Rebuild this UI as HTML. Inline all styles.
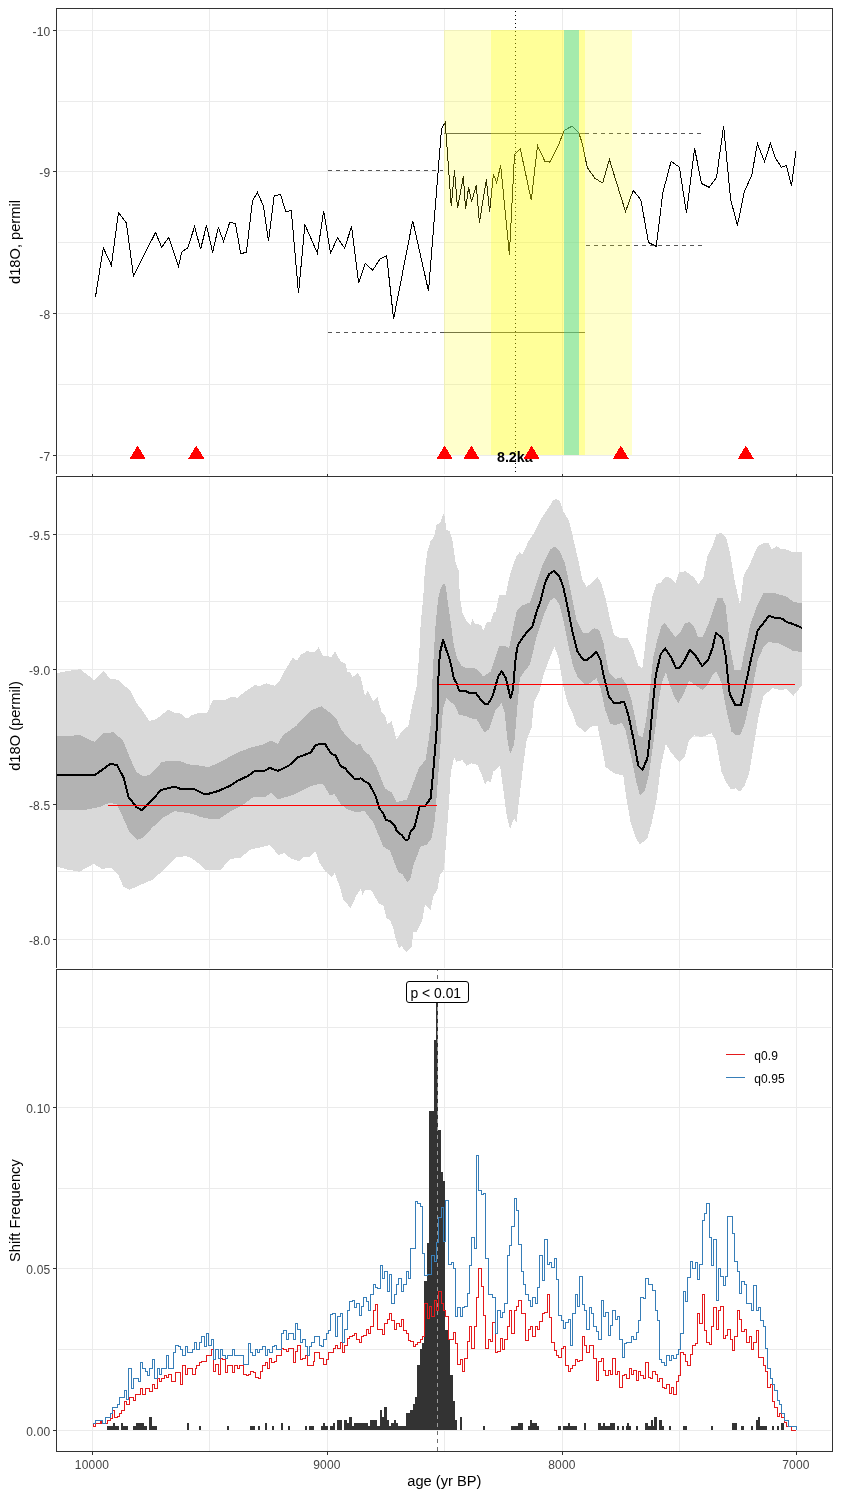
<!DOCTYPE html><html><head><meta charset="utf-8"><title>plot</title><style>html,body{margin:0;padding:0;background:#fff}svg text{font-family:"Liberation Sans",sans-serif}</style></head><body><svg width="841" height="1497" viewBox="0 0 841 1497" style="display:block">
<rect width="841" height="1497" fill="#fff"/>
<g shape-rendering="crispEdges">
<rect x="58" y="30" width="773" height="1" fill="#EBEBEB"/>
<rect x="58" y="101" width="773" height="1" fill="#EBEBEB"/>
<rect x="58" y="171" width="773" height="1" fill="#EBEBEB"/>
<rect x="58" y="242" width="773" height="1" fill="#EBEBEB"/>
<rect x="58" y="313" width="773" height="1" fill="#EBEBEB"/>
<rect x="58" y="384" width="773" height="1" fill="#EBEBEB"/>
<rect x="58" y="455" width="773" height="1" fill="#EBEBEB"/>
<rect x="92" y="9" width="1" height="465" fill="#EBEBEB"/>
<rect x="209" y="9" width="1" height="465" fill="#EBEBEB"/>
<rect x="327" y="9" width="1" height="465" fill="#EBEBEB"/>
<rect x="444" y="9" width="1" height="465" fill="#EBEBEB"/>
<rect x="562" y="9" width="1" height="465" fill="#EBEBEB"/>
<rect x="679" y="9" width="1" height="465" fill="#EBEBEB"/>
<rect x="796" y="9" width="1" height="465" fill="#EBEBEB"/>
<rect x="515" y="11" width="1" height="1" fill="#000"/>
<rect x="515" y="15" width="1" height="1" fill="#000"/>
<rect x="515" y="19" width="1" height="1" fill="#000"/>
<rect x="515" y="23" width="1" height="1" fill="#000"/>
<rect x="515" y="27" width="1" height="1" fill="#000"/>
<rect x="515" y="31" width="1" height="1" fill="#000"/>
<rect x="515" y="35" width="1" height="1" fill="#000"/>
<rect x="515" y="39" width="1" height="1" fill="#000"/>
<rect x="515" y="43" width="1" height="1" fill="#000"/>
<rect x="515" y="47" width="1" height="1" fill="#000"/>
<rect x="515" y="51" width="1" height="1" fill="#000"/>
<rect x="515" y="55" width="1" height="1" fill="#000"/>
<rect x="515" y="59" width="1" height="1" fill="#000"/>
<rect x="515" y="63" width="1" height="1" fill="#000"/>
<rect x="515" y="67" width="1" height="1" fill="#000"/>
<rect x="515" y="71" width="1" height="1" fill="#000"/>
<rect x="515" y="75" width="1" height="1" fill="#000"/>
<rect x="515" y="79" width="1" height="1" fill="#000"/>
<rect x="515" y="83" width="1" height="1" fill="#000"/>
<rect x="515" y="87" width="1" height="1" fill="#000"/>
<rect x="515" y="91" width="1" height="1" fill="#000"/>
<rect x="515" y="95" width="1" height="1" fill="#000"/>
<rect x="515" y="99" width="1" height="1" fill="#000"/>
<rect x="515" y="103" width="1" height="1" fill="#000"/>
<rect x="515" y="107" width="1" height="1" fill="#000"/>
<rect x="515" y="111" width="1" height="1" fill="#000"/>
<rect x="515" y="115" width="1" height="1" fill="#000"/>
<rect x="515" y="119" width="1" height="1" fill="#000"/>
<rect x="515" y="123" width="1" height="1" fill="#000"/>
<rect x="515" y="127" width="1" height="1" fill="#000"/>
<rect x="515" y="131" width="1" height="1" fill="#000"/>
<rect x="515" y="135" width="1" height="1" fill="#000"/>
<rect x="515" y="139" width="1" height="1" fill="#000"/>
<rect x="515" y="143" width="1" height="1" fill="#000"/>
<rect x="515" y="147" width="1" height="1" fill="#000"/>
<rect x="515" y="151" width="1" height="1" fill="#000"/>
<rect x="515" y="155" width="1" height="1" fill="#000"/>
<rect x="515" y="159" width="1" height="1" fill="#000"/>
<rect x="515" y="163" width="1" height="1" fill="#000"/>
<rect x="515" y="167" width="1" height="1" fill="#000"/>
<rect x="515" y="171" width="1" height="1" fill="#000"/>
<rect x="515" y="175" width="1" height="1" fill="#000"/>
<rect x="515" y="179" width="1" height="1" fill="#000"/>
<rect x="515" y="183" width="1" height="1" fill="#000"/>
<rect x="515" y="187" width="1" height="1" fill="#000"/>
<rect x="515" y="191" width="1" height="1" fill="#000"/>
<rect x="515" y="195" width="1" height="1" fill="#000"/>
<rect x="515" y="199" width="1" height="1" fill="#000"/>
<rect x="515" y="203" width="1" height="1" fill="#000"/>
<rect x="515" y="207" width="1" height="1" fill="#000"/>
<rect x="515" y="211" width="1" height="1" fill="#000"/>
<rect x="515" y="215" width="1" height="1" fill="#000"/>
<rect x="515" y="219" width="1" height="1" fill="#000"/>
<rect x="515" y="223" width="1" height="1" fill="#000"/>
<rect x="515" y="227" width="1" height="1" fill="#000"/>
<rect x="515" y="231" width="1" height="1" fill="#000"/>
<rect x="515" y="235" width="1" height="1" fill="#000"/>
<rect x="515" y="239" width="1" height="1" fill="#000"/>
<rect x="515" y="243" width="1" height="1" fill="#000"/>
<rect x="515" y="247" width="1" height="1" fill="#000"/>
<rect x="515" y="251" width="1" height="1" fill="#000"/>
<rect x="515" y="255" width="1" height="1" fill="#000"/>
<rect x="515" y="259" width="1" height="1" fill="#000"/>
<rect x="515" y="263" width="1" height="1" fill="#000"/>
<rect x="515" y="267" width="1" height="1" fill="#000"/>
<rect x="515" y="271" width="1" height="1" fill="#000"/>
<rect x="515" y="275" width="1" height="1" fill="#000"/>
<rect x="515" y="279" width="1" height="1" fill="#000"/>
<rect x="515" y="283" width="1" height="1" fill="#000"/>
<rect x="515" y="287" width="1" height="1" fill="#000"/>
<rect x="515" y="291" width="1" height="1" fill="#000"/>
<rect x="515" y="295" width="1" height="1" fill="#000"/>
<rect x="515" y="299" width="1" height="1" fill="#000"/>
<rect x="515" y="303" width="1" height="1" fill="#000"/>
<rect x="515" y="307" width="1" height="1" fill="#000"/>
<rect x="515" y="311" width="1" height="1" fill="#000"/>
<rect x="515" y="315" width="1" height="1" fill="#000"/>
<rect x="515" y="319" width="1" height="1" fill="#000"/>
<rect x="515" y="323" width="1" height="1" fill="#000"/>
<rect x="515" y="327" width="1" height="1" fill="#000"/>
<rect x="515" y="331" width="1" height="1" fill="#000"/>
<rect x="515" y="335" width="1" height="1" fill="#000"/>
<rect x="515" y="339" width="1" height="1" fill="#000"/>
<rect x="515" y="343" width="1" height="1" fill="#000"/>
<rect x="515" y="347" width="1" height="1" fill="#000"/>
<rect x="515" y="351" width="1" height="1" fill="#000"/>
<rect x="515" y="355" width="1" height="1" fill="#000"/>
<rect x="515" y="359" width="1" height="1" fill="#000"/>
<rect x="515" y="363" width="1" height="1" fill="#000"/>
<rect x="515" y="367" width="1" height="1" fill="#000"/>
<rect x="515" y="371" width="1" height="1" fill="#000"/>
<rect x="515" y="375" width="1" height="1" fill="#000"/>
<rect x="515" y="379" width="1" height="1" fill="#000"/>
<rect x="515" y="383" width="1" height="1" fill="#000"/>
<rect x="515" y="387" width="1" height="1" fill="#000"/>
<rect x="515" y="391" width="1" height="1" fill="#000"/>
<rect x="515" y="395" width="1" height="1" fill="#000"/>
<rect x="515" y="399" width="1" height="1" fill="#000"/>
<rect x="515" y="403" width="1" height="1" fill="#000"/>
<rect x="515" y="407" width="1" height="1" fill="#000"/>
<rect x="515" y="411" width="1" height="1" fill="#000"/>
<rect x="515" y="415" width="1" height="1" fill="#000"/>
<rect x="515" y="419" width="1" height="1" fill="#000"/>
<rect x="515" y="423" width="1" height="1" fill="#000"/>
<rect x="515" y="427" width="1" height="1" fill="#000"/>
<rect x="515" y="431" width="1" height="1" fill="#000"/>
<rect x="515" y="435" width="1" height="1" fill="#000"/>
<rect x="515" y="439" width="1" height="1" fill="#000"/>
<rect x="515" y="443" width="1" height="1" fill="#000"/>
<rect x="515" y="447" width="1" height="1" fill="#000"/>
<rect x="515" y="451" width="1" height="1" fill="#000"/>
<rect x="515" y="455" width="1" height="1" fill="#000"/>
<rect x="515" y="459" width="1" height="1" fill="#000"/>
<rect x="515" y="463" width="1" height="1" fill="#000"/>
<rect x="515" y="467" width="1" height="1" fill="#000"/>
<rect x="515" y="471" width="1" height="1" fill="#000"/>
<polyline points="95.4,297.4 103.3,247.8 111.4,265.3 118.5,212.5 126.4,223.1 133.5,276.3 140.7,261.3 155.6,232.5 161.6,247.3 168.8,237.4 178.5,266.3 181.8,252.0 187.7,247.8 194.6,226.6 200.6,249.2 206.5,225.4 212.6,252.5 218.3,227.4 223.5,241.3 229.7,222.5 235.4,223.5 240.7,253.5 246.4,252.5 252.5,200.7 257.5,192.4 263.5,206.4 268.5,241.3 274.2,195.7 280.6,194.5 285.6,211.4 291.3,210.7 298.5,293.4 304.9,224.7 317.4,253.1 323.7,210.7 330.5,253.2 337.5,237.7 344.6,248.2 351.6,226.5 358.6,283.1 365.3,263.5 372.8,270.3 379.9,259.0 386.6,255.7 393.6,318.9 412.7,220.7 428.5,291.1 441.5,129.1 445.2,122.3 451.3,206.4 454.5,170.1 457.5,208.4 463.4,176.4 465.6,209.4 468.6,187.2 471.6,201.4 476.3,185.4 479.4,222.5 486.4,179.4 489.6,212.4 493.4,174.3 496.6,182.4 500.7,165.6 509.4,254.5 514.5,154.8 520.3,148.7 531.3,200.3 537.5,145.6 544.8,161.1 549.9,162.1 557.9,146.7 564.1,130.5 572.1,126.1 578.8,132.8 581.9,142.1 587.3,167.6 595.0,178.4 602.7,183.0 609.4,159.5 625.5,211.6 633.2,190.4 640.8,199.7 648.5,242.5 656.2,246.4 662.9,192.3 671.1,161.4 679.4,167.1 686.5,213.2 694.6,148.2 701.5,183.5 709.2,187.3 716.5,177.6 723.6,126.1 730.6,199.2 737.4,225.5 744.3,191.6 751.7,175.5 757.4,143.5 764.5,161.6 770.4,143.3 775.4,157.8 781.4,167.3 786.4,165.5 791.5,185.7 795.9,150.7" fill="none" stroke="#000" stroke-width="1"/>
<line x1="327.5" y1="170.5" x2="443" y2="170.5" stroke="#555555" stroke-width="1" stroke-dasharray="4 4"/>
<line x1="327.5" y1="332.5" x2="440" y2="332.5" stroke="#555555" stroke-width="1" stroke-dasharray="4 4"/>
<rect x="440" y="332" width="145" height="1" fill="#555555"/>
<rect x="444" y="133" width="140.5" height="1" fill="#555555"/>
<line x1="584.5" y1="133.5" x2="702.5" y2="133.5" stroke="#555555" stroke-width="1" stroke-dasharray="4 4"/>
<line x1="585.5" y1="245.5" x2="702.5" y2="245.5" stroke="#555555" stroke-width="1" stroke-dasharray="4 4"/>
<rect x="444" y="30" width="188" height="425" fill="rgb(255,255,0)" fill-opacity="0.2"/>
<rect x="491" y="30" width="94" height="425" fill="rgb(255,255,0)" fill-opacity="0.25"/>
<rect x="564" y="30" width="15" height="425" fill="rgb(30,205,200)" fill-opacity="0.4"/>
</g>
<text x="514.8" y="462.0" text-anchor="middle" font-size="14.2" font-weight="bold" fill="#000">8.2ka</text>
<polygon points="137.6,445.5 129.6,458.8 145.6,458.8" fill="#FF0000" shape-rendering="crispEdges"/>
<polygon points="196.3,445.5 188.3,458.8 204.3,458.8" fill="#FF0000" shape-rendering="crispEdges"/>
<polygon points="444.6,445.5 436.6,458.8 452.6,458.8" fill="#FF0000" shape-rendering="crispEdges"/>
<polygon points="471.4,445.5 463.4,458.8 479.4,458.8" fill="#FF0000" shape-rendering="crispEdges"/>
<polygon points="531.6,445.5 523.6,458.8 539.6,458.8" fill="#FF0000" shape-rendering="crispEdges"/>
<polygon points="620.8,445.5 612.8,458.8 628.8,458.8" fill="#FF0000" shape-rendering="crispEdges"/>
<polygon points="745.8,445.5 737.8,458.8 753.8,458.8" fill="#FF0000" shape-rendering="crispEdges"/>
<g shape-rendering="crispEdges">
<rect x="56" y="8" width="777" height="1" fill="#333333"/>
<rect x="56" y="8" width="1" height="466" fill="#333333"/>
<rect x="832" y="8" width="1" height="466" fill="#333333"/>
<rect x="53" y="30" width="3" height="1" fill="#333333"/>
<rect x="53" y="171" width="3" height="1" fill="#333333"/>
<rect x="53" y="313" width="3" height="1" fill="#333333"/>
<rect x="53" y="455" width="3" height="1" fill="#333333"/>
</g>
<text x="50.4" y="35.9" text-anchor="end" font-size="12" letter-spacing="0.2" fill="#454545">-10</text>
<text x="50.4" y="176.9" text-anchor="end" font-size="12" letter-spacing="0.2" fill="#454545">-9</text>
<text x="50.4" y="318.9" text-anchor="end" font-size="12" letter-spacing="0.2" fill="#454545">-8</text>
<text x="50.4" y="460.9" text-anchor="end" font-size="12" letter-spacing="0.2" fill="#454545">-7</text>
<text transform="translate(20.4,242) rotate(-90)" text-anchor="middle" font-size="14.67" fill="#000">d18O, permil</text>
<g shape-rendering="crispEdges">
<rect x="56" y="474" width="777" height="494" fill="#fff"/>
<rect x="92" y="474" width="1" height="2" fill="#333333"/>
<rect x="327" y="474" width="1" height="2" fill="#333333"/>
<rect x="562" y="474" width="1" height="2" fill="#333333"/>
<rect x="796" y="474" width="1" height="2" fill="#333333"/>
<rect x="58" y="534" width="773" height="1" fill="#EBEBEB"/>
<rect x="58" y="601" width="773" height="1" fill="#EBEBEB"/>
<rect x="58" y="669" width="773" height="1" fill="#EBEBEB"/>
<rect x="58" y="736" width="773" height="1" fill="#EBEBEB"/>
<rect x="58" y="804" width="773" height="1" fill="#EBEBEB"/>
<rect x="58" y="871" width="773" height="1" fill="#EBEBEB"/>
<rect x="58" y="939" width="773" height="1" fill="#EBEBEB"/>
<rect x="92" y="477" width="1" height="491" fill="#EBEBEB"/>
<rect x="209" y="477" width="1" height="491" fill="#EBEBEB"/>
<rect x="327" y="477" width="1" height="491" fill="#EBEBEB"/>
<rect x="444" y="477" width="1" height="491" fill="#EBEBEB"/>
<rect x="562" y="477" width="1" height="491" fill="#EBEBEB"/>
<rect x="679" y="477" width="1" height="491" fill="#EBEBEB"/>
<rect x="796" y="477" width="1" height="491" fill="#EBEBEB"/>
<polygon points="57.3,673.0 67.7,670.9 80.2,669.2 94.1,680.1 103.3,670.9 110.3,678.7 117.8,679.7 130.3,690.9 136.2,702.6 142.8,711.0 149.5,721.0 156.2,719.3 167.9,709.8 174.6,712.6 180.4,713.5 187.1,718.8 192.0,715.0 197.6,713.3 207.1,713.3 212.8,699.9 224.2,700.5 230.9,697.1 237.6,697.6 245.2,691.4 254.7,685.1 259.4,686.0 266.1,683.4 274.7,685.7 279.4,680.9 285.1,670.4 292.7,657.5 296.9,660.5 300.4,655.2 307.0,651.0 313.7,652.4 318.8,647.2 323.2,656.2 331.7,656.7 335.0,651.4 340.3,660.9 345.5,664.0 347.5,672.3 350.0,671.5 352.5,677.3 357.5,673.1 360.8,677.3 365.0,696.4 367.5,690.6 373.3,701.1 377.5,697.3 381.6,712.2 385.0,715.6 387.4,723.9 391.6,721.4 396.6,739.6 401.6,731.7 406.6,726.7 408.3,726.4 411.6,708.1 416.6,686.4 419.1,656.5 420.7,623.2 423.2,598.2 424.9,569.9 427.4,551.6 430.7,540.8 434.1,536.6 436.6,524.1 439.9,523.3 444.0,512.5 446.5,530.0 449.9,531.6 452.4,539.9 455.7,563.2 458.5,569.9 459.9,596.5 462.4,613.2 466.5,620.7 470.7,624.8 472.4,619.0 475.0,624.0 480.8,624.8 483.3,630.7 486.6,622.3 490.8,621.5 493.3,613.2 495.8,611.5 499.1,594.9 505.8,594.5 509.1,578.2 512.5,566.6 516.6,555.8 519.9,551.9 522.4,554.6 528.3,541.6 533.3,534.1 541.6,518.3 548.2,508.3 553.2,500.3 556.6,498.7 559.9,501.7 563.2,511.0 569.1,520.8 573.2,538.3 578.2,559.9 582.4,579.9 586.5,586.6 591.5,583.2 597.4,576.6 601.5,584.1 605.5,598.2 610.0,619.0 614.1,634.9 620.0,638.2 627.5,638.5 633.3,649.8 638.3,665.7 642.4,668.2 645.8,639.9 649.1,614.9 652.4,596.6 656.6,584.1 660.8,582.4 665.8,576.3 670.7,578.3 675.7,582.9 679.1,572.4 685.7,571.3 694.1,577.4 698.2,584.1 703.2,578.3 707.4,555.8 712.4,546.6 716.5,533.7 721.5,533.3 726.5,538.5 730.0,553.0 734.4,579.9 740.0,605.0 743.7,576.1 750.3,563.0 757.7,546.2 764.3,542.8 769.0,543.4 771.8,549.6 776.4,546.2 781.1,549.0 786.7,549.6 792.4,552.2 801.7,552.2 801.7,685.6 798.9,689.3 793.3,695.9 786.7,689.3 779.3,689.9 772.7,688.0 763.4,695.9 758.7,716.4 754.0,744.5 749.3,772.6 744.6,785.7 740.0,791.7 735.7,788.3 730.6,789.2 725.0,780.1 721.5,771.6 715.7,740.0 711.5,733.3 701.5,737.0 694.1,735.3 689.1,740.0 684.9,756.6 679.6,762.4 671.6,753.3 665.8,744.1 660.8,766.6 656.6,799.9 651.6,823.2 647.4,838.2 640.0,844.5 635.8,838.2 630.8,823.2 626.6,799.9 623.3,775.7 614.1,773.2 605.5,767.0 601.5,744.9 597.4,725.8 592.4,725.8 584.9,732.5 576.5,724.8 573.2,714.7 568.2,704.8 564.1,689.8 561.6,676.5 558.2,656.5 554.4,646.8 549.1,659.8 544.1,673.1 539.9,689.8 534.1,701.5 531.6,727.5 526.6,739.9 523.3,764.9 519.9,793.2 516.6,822.3 514.1,818.2 510.0,829.0 506.6,814.9 503.3,789.9 500.0,765.7 493.3,771.6 490.8,782.4 487.5,780.7 485.0,784.9 481.7,774.9 477.5,764.9 471.5,763.3 466.5,765.8 462.4,760.0 456.5,761.6 454.0,757.5 450.7,773.3 449.0,803.2 446.5,836.5 444.0,869.8 439.9,874.8 437.4,889.8 433.2,896.5 430.7,909.8 424.9,904.8 422.4,919.8 416.6,932.3 413.2,932.3 411.6,947.2 406.6,952.2 401.6,946.4 399.1,948.1 395.8,939.7 393.3,928.1 389.9,919.8 386.6,918.1 383.3,905.6 379.1,903.9 371.6,890.6 365.0,889.8 362.5,894.8 360.8,889.0 356.6,894.8 350.8,908.1 343.3,899.8 340.2,887.7 334.6,873.1 331.7,876.9 325.1,871.2 319.4,862.6 315.2,850.8 309.9,856.9 304.2,856.9 299.4,861.1 290.8,858.4 284.2,853.1 278.5,855.0 269.9,845.1 262.3,847.0 250.9,849.3 240.4,857.8 230.9,858.8 220.4,869.8 205.2,869.8 197.6,862.6 192.0,858.5 186.3,856.2 176.2,857.1 162.9,870.4 152.9,879.6 141.2,884.6 129.5,889.7 123.6,887.1 117.8,873.8 111.1,867.9 101.9,868.8 93.6,863.8 79.4,871.8 67.7,869.6 57.3,866.8" fill="#D9D9D9"/>
<polygon points="57.3,736.3 80.2,735.2 94.4,741.9 103.6,733.2 113.6,732.3 122.8,740.2 129.5,756.9 136.2,771.9 142.8,776.1 148.7,775.3 155.4,769.4 162.0,761.6 180.4,761.1 187.9,764.1 192.0,764.8 199.5,765.6 209.0,767.1 220.4,761.8 237.6,752.6 250.9,747.5 262.3,744.6 270.9,740.8 277.9,743.7 283.2,735.1 296.5,725.6 304.2,717.1 311.8,710.0 321.3,706.2 330.8,713.3 336.5,719.0 340.0,727.5 346.7,736.6 356.6,745.0 360.0,743.3 363.3,750.0 370.0,755.8 376.6,767.4 384.9,788.3 391.6,792.4 396.6,802.4 401.6,800.7 406.6,799.9 413.2,783.3 419.1,767.4 425.7,760.0 429.1,736.6 431.0,722.0 432.4,681.4 434.1,648.1 435.7,623.2 438.2,598.2 440.7,588.2 444.0,582.9 445.7,586.6 449.9,616.5 454.0,646.5 457.4,659.0 461.5,665.6 466.5,668.1 474.8,668.5 476.7,669.0 483.3,676.5 490.8,671.5 499.1,646.5 505.8,646.2 509.1,648.1 514.1,623.2 516.6,611.5 521.6,605.7 529.9,602.4 536.6,583.2 543.2,563.2 549.9,549.9 554.9,546.3 559.9,551.6 564.9,563.2 569.9,586.6 576.5,619.8 583.2,633.2 588.2,633.2 594.0,628.2 599.0,629.8 603.2,641.5 606.5,659.8 609.2,673.2 615.0,679.0 621.6,677.3 626.6,684.8 631.6,699.8 638.3,735.2 642.6,737.1 646.2,720.0 649.9,690.0 653.3,656.5 657.4,639.9 661.6,625.7 664.9,623.2 669.9,629.9 675.7,637.4 680.7,631.5 684.9,623.2 689.9,621.9 694.1,626.5 698.2,637.4 702.4,637.4 708.2,624.9 713.2,609.9 717.4,598.2 722.4,598.2 725.5,605.0 727.8,624.8 730.6,651.0 734.4,669.7 740.9,669.7 744.6,651.0 750.3,624.8 756.8,606.1 763.4,593.3 775.5,593.3 786.7,596.7 793.3,601.9 801.7,603.3 801.7,651.9 793.3,651.0 786.7,647.2 779.3,643.5 769.0,642.0 763.4,647.2 757.7,660.3 750.3,699.6 744.6,723.9 740.0,735.3 735.7,735.3 731.5,731.5 728.2,718.0 724.9,702.0 721.5,683.1 716.5,671.5 712.4,674.8 707.4,684.8 702.4,689.8 694.9,684.8 689.1,680.6 683.2,694.8 678.2,703.1 674.1,696.5 669.9,684.8 665.8,672.3 661.6,683.1 658.3,703.1 656.2,722.0 653.3,743.3 649.1,773.2 644.9,790.7 640.0,795.7 635.8,779.9 630.8,754.9 625.5,730.0 621.6,722.8 615.0,725.3 610.0,723.6 605.0,709.0 600.5,688.0 596.5,678.1 589.9,683.1 584.9,684.8 578.2,678.1 573.2,666.5 568.2,644.8 563.2,619.8 559.1,603.2 554.1,597.9 549.9,600.7 543.2,616.5 536.6,636.5 529.9,664.8 524.9,670.6 519.9,678.1 517.4,706.6 514.1,744.9 510.0,754.1 507.5,739.9 504.5,711.5 501.6,703.2 495.0,711.0 489.1,729.1 485.0,732.5 481.7,728.3 476.7,719.1 473.2,718.9 466.5,716.4 459.0,714.7 454.9,705.6 446.5,698.1 443.2,708.1 441.9,722.0 439.9,753.3 437.4,786.6 434.9,819.9 431.6,838.2 426.6,844.9 420.7,846.5 413.2,865.7 410.8,878.1 407.4,882.3 402.4,874.0 398.3,872.3 389.9,850.7 383.3,846.5 373.3,822.4 364.1,810.7 356.6,812.4 346.7,809.1 340.2,803.4 334.6,794.1 329.8,795.1 323.2,784.2 314.6,784.6 304.2,789.4 292.7,795.1 277.9,799.4 270.9,792.8 265.2,797.0 252.8,797.5 243.3,804.6 230.9,811.2 218.5,819.2 210.9,819.2 199.5,816.6 192.0,813.8 186.3,812.8 174.6,811.2 162.9,817.8 152.9,827.0 142.8,837.9 137.0,840.0 129.5,832.0 122.8,817.0 117.0,804.5 109.4,802.8 99.4,807.0 86.1,809.8 57.3,809.8" fill="#B3B3B3"/>
<polyline points="57.3,774.7 95.2,774.7 102.8,769.4 110.3,763.9 117.0,764.9 123.6,777.8 128.6,797.0 136.2,807.0 142.0,810.3 149.5,802.8 161.2,789.9 174.6,786.6 179.6,788.6 190.0,789.0 194.8,789.4 203.3,793.7 209.0,793.7 218.5,790.9 230.0,785.9 237.6,780.8 248.0,776.0 254.7,770.9 264.2,770.9 269.9,767.9 277.9,770.9 288.9,765.6 298.4,757.0 304.2,755.1 310.8,752.3 316.0,744.6 325.1,744.1 331.7,754.2 335.5,755.1 340.2,765.7 345.0,768.3 355.0,779.6 360.8,778.3 365.0,781.6 369.1,783.6 375.8,796.6 379.1,808.2 383.3,813.2 385.8,819.9 390.8,821.5 394.9,825.7 396.6,830.7 402.4,835.7 404.9,839.5 408.3,839.5 410.8,830.7 414.1,828.2 419.9,805.7 424.9,806.2 430.7,798.2 432.9,774.9 435.7,741.6 437.4,720.0 438.2,681.4 439.9,653.1 443.2,639.8 445.7,648.1 449.9,659.8 454.0,678.9 456.5,683.1 459.0,690.6 466.5,691.4 469.0,692.8 475.8,692.8 480.0,698.9 484.2,703.6 488.3,703.6 492.5,696.4 498.3,676.5 501.6,671.1 505.8,678.1 510.5,698.1 512.9,689.8 515.8,656.5 517.9,644.8 526.6,632.3 532.4,626.5 536.6,611.5 539.9,603.2 544.9,583.2 549.1,574.1 554.1,570.7 559.1,575.7 563.2,586.6 568.2,609.9 572.4,631.5 577.4,651.5 583.2,659.8 587.4,659.8 596.5,651.8 600.5,659.8 604.2,678.1 609.2,697.3 614.1,702.8 619.1,702.8 624.1,701.8 628.3,714.8 633.3,738.2 638.3,765.8 642.4,769.9 647.4,758.3 649.9,736.5 652.4,709.8 655.8,674.8 660.8,654.0 665.3,648.5 671.6,658.2 675.7,667.7 679.9,667.7 684.9,659.8 689.9,649.5 694.9,654.8 702.4,666.2 708.2,659.8 712.4,648.2 716.0,632.9 722.4,638.2 725.5,655.0 729.7,694.0 735.3,705.2 740.9,705.2 745.6,684.6 751.2,658.4 757.7,630.4 769.0,615.8 776.4,618.2 782.1,618.6 786.7,622.0 792.4,623.8 802.1,627.9" fill="none" stroke="#000" stroke-width="2" stroke-linejoin="round"/>
<rect x="108" y="805" width="329" height="1" fill="#FF0000"/>
<rect x="439" y="684" width="356" height="1" fill="#FF0000"/>
<rect x="56" y="476" width="777" height="1" fill="#333333"/>
<rect x="56" y="476" width="1" height="492" fill="#333333"/>
<rect x="832" y="476" width="1" height="492" fill="#333333"/>
<rect x="53" y="534" width="3" height="1" fill="#333333"/>
<rect x="53" y="669" width="3" height="1" fill="#333333"/>
<rect x="53" y="804" width="3" height="1" fill="#333333"/>
<rect x="53" y="939" width="3" height="1" fill="#333333"/>
</g>
<text x="50.4" y="539.9" text-anchor="end" font-size="12" letter-spacing="0.2" fill="#454545">-9.5</text>
<text x="50.4" y="674.9" text-anchor="end" font-size="12" letter-spacing="0.2" fill="#454545">-9.0</text>
<text x="50.4" y="809.9" text-anchor="end" font-size="12" letter-spacing="0.2" fill="#454545">-8.5</text>
<text x="50.4" y="944.9" text-anchor="end" font-size="12" letter-spacing="0.2" fill="#454545">-8.0</text>
<text transform="translate(20.4,726) rotate(-90)" text-anchor="middle" font-size="14.67" fill="#000">d18O (permil)</text>
<g shape-rendering="crispEdges">
<rect x="56" y="968" width="777" height="484" fill="#fff"/>
<rect x="58" y="1027" width="773" height="1" fill="#EBEBEB"/>
<rect x="58" y="1107" width="773" height="1" fill="#EBEBEB"/>
<rect x="58" y="1188" width="773" height="1" fill="#EBEBEB"/>
<rect x="58" y="1268" width="773" height="1" fill="#EBEBEB"/>
<rect x="58" y="1349" width="773" height="1" fill="#EBEBEB"/>
<rect x="58" y="1430" width="773" height="1" fill="#EBEBEB"/>
<rect x="92" y="970" width="1" height="481" fill="#EBEBEB"/>
<rect x="209" y="970" width="1" height="481" fill="#EBEBEB"/>
<rect x="327" y="970" width="1" height="481" fill="#EBEBEB"/>
<rect x="444" y="970" width="1" height="481" fill="#EBEBEB"/>
<rect x="562" y="970" width="1" height="481" fill="#EBEBEB"/>
<rect x="679" y="970" width="1" height="481" fill="#EBEBEB"/>
<rect x="796" y="970" width="1" height="481" fill="#EBEBEB"/>
<line x1="437.5" y1="1451" x2="437.5" y2="969" stroke="#6E6E6E" stroke-width="1" stroke-dasharray="4 4"/>
<rect x="107.3" y="1426.4" width="11.7" height="3.6" fill="#333333"/>
<rect x="112.6" y="1423.2" width="2.2" height="6.8" fill="#333333"/>
<rect x="121.2" y="1426.4" width="6.4" height="3.6" fill="#333333"/>
<rect x="121.2" y="1423.2" width="2.1" height="6.8" fill="#333333"/>
<rect x="132.9" y="1426.4" width="14.0" height="3.6" fill="#333333"/>
<rect x="135.5" y="1423.2" width="8.6" height="6.8" fill="#333333"/>
<rect x="149.0" y="1426.4" width="7.9" height="3.6" fill="#333333"/>
<rect x="149.0" y="1416.8" width="2.8" height="13.2" fill="#333333"/>
<rect x="186.9" y="1423.2" width="1.7" height="6.8" fill="#333333"/>
<rect x="198.9" y="1426.4" width="1.9" height="3.6" fill="#333333"/>
<rect x="227.1" y="1426.4" width="1.7" height="3.6" fill="#333333"/>
<rect x="250.0" y="1426.4" width="5.0" height="3.6" fill="#333333"/>
<rect x="258.0" y="1426.4" width="1.9" height="3.6" fill="#333333"/>
<rect x="265.0" y="1423.2" width="2.0" height="6.8" fill="#333333"/>
<rect x="271.9" y="1426.4" width="1.7" height="3.6" fill="#333333"/>
<rect x="281.1" y="1423.2" width="1.9" height="6.8" fill="#333333"/>
<rect x="288.0" y="1426.4" width="1.7" height="3.6" fill="#333333"/>
<rect x="305.1" y="1426.4" width="1.7" height="3.6" fill="#333333"/>
<rect x="308.9" y="1426.4" width="5.2" height="3.6" fill="#333333"/>
<rect x="321.1" y="1426.4" width="6.5" height="3.6" fill="#333333"/>
<rect x="323.3" y="1423.2" width="2.1" height="6.8" fill="#333333"/>
<rect x="330.3" y="1426.4" width="4.8" height="3.6" fill="#333333"/>
<rect x="332.9" y="1423.2" width="2.2" height="6.8" fill="#333333"/>
<rect x="337.2" y="1420.0" width="4.7" height="10.0" fill="#333333"/>
<rect x="344.0" y="1420.0" width="2.8" height="10.0" fill="#333333"/>
<rect x="346.8" y="1423.2" width="2.2" height="6.8" fill="#333333"/>
<rect x="349.0" y="1416.8" width="2.5" height="13.2" fill="#333333"/>
<rect x="351.5" y="1426.4" width="2.8" height="3.6" fill="#333333"/>
<rect x="354.3" y="1423.2" width="13.9" height="6.8" fill="#333333"/>
<rect x="368.2" y="1426.4" width="2.2" height="3.6" fill="#333333"/>
<rect x="370.4" y="1420.0" width="6.4" height="10.0" fill="#333333"/>
<rect x="376.8" y="1426.4" width="3.2" height="3.6" fill="#333333"/>
<rect x="380.0" y="1410.4" width="2.1" height="19.6" fill="#333333"/>
<rect x="382.1" y="1416.8" width="2.2" height="13.2" fill="#333333"/>
<rect x="384.3" y="1407.2" width="2.6" height="22.8" fill="#333333"/>
<rect x="386.9" y="1420.0" width="2.1" height="10.0" fill="#333333"/>
<rect x="389.0" y="1426.4" width="2.1" height="3.6" fill="#333333"/>
<rect x="391.1" y="1423.2" width="2.8" height="6.8" fill="#333333"/>
<rect x="393.9" y="1420.0" width="2.2" height="10.0" fill="#333333"/>
<rect x="396.1" y="1423.2" width="2.1" height="6.8" fill="#333333"/>
<rect x="398.2" y="1426.4" width="7.9" height="3.6" fill="#333333"/>
<rect x="406.0" y="1413.2" width="4.3" height="16.8" fill="#333333"/>
<rect x="410.3" y="1410.2" width="2.9" height="19.8" fill="#333333"/>
<rect x="413.2" y="1404.1" width="2.2" height="25.9" fill="#333333"/>
<rect x="415.4" y="1397.0" width="2.0" height="33.0" fill="#333333"/>
<rect x="417.4" y="1365.0" width="2.9" height="65.0" fill="#333333"/>
<rect x="420.3" y="1349.0" width="2.0" height="81.0" fill="#333333"/>
<rect x="422.3" y="1343.3" width="2.1" height="86.7" fill="#333333"/>
<rect x="424.4" y="1281.0" width="3.0" height="149.0" fill="#333333"/>
<rect x="427.4" y="1243.0" width="1.8" height="187.0" fill="#333333"/>
<rect x="429.2" y="1111.1" width="4.8" height="318.9" fill="#333333"/>
<rect x="434.0" y="1039.8" width="2.6" height="390.2" fill="#333333"/>
<rect x="436.6" y="1085.0" width="1.4" height="345.0" fill="#333333"/>
<rect x="438.0" y="1130.1" width="2.7" height="299.9" fill="#333333"/>
<rect x="440.7" y="1172.1" width="2.0" height="257.9" fill="#333333"/>
<rect x="442.7" y="1181.2" width="2.1" height="248.8" fill="#333333"/>
<rect x="444.8" y="1330.3" width="3.4" height="99.7" fill="#333333"/>
<rect x="448.2" y="1339.3" width="1.9" height="90.7" fill="#333333"/>
<rect x="450.1" y="1375.1" width="2.9" height="54.9" fill="#333333"/>
<rect x="453.0" y="1401.0" width="1.8" height="29.0" fill="#333333"/>
<rect x="454.8" y="1420.1" width="2.1" height="9.9" fill="#333333"/>
<rect x="460.1" y="1416.8" width="1.7" height="13.2" fill="#333333"/>
<rect x="483.2" y="1426.4" width="1.7" height="3.6" fill="#333333"/>
<rect x="511.4" y="1426.4" width="11.4" height="3.6" fill="#333333"/>
<rect x="518.1" y="1423.2" width="4.7" height="6.8" fill="#333333"/>
<rect x="528.1" y="1426.4" width="10.7" height="3.6" fill="#333333"/>
<rect x="529.6" y="1423.2" width="7.1" height="6.8" fill="#333333"/>
<rect x="530.3" y="1420.0" width="1.7" height="10.0" fill="#333333"/>
<rect x="558.1" y="1426.4" width="2.8" height="3.6" fill="#333333"/>
<rect x="563.4" y="1426.4" width="13.3" height="3.6" fill="#333333"/>
<rect x="568.2" y="1423.2" width="2.1" height="6.8" fill="#333333"/>
<rect x="584.2" y="1423.2" width="1.7" height="6.8" fill="#333333"/>
<rect x="598.1" y="1426.4" width="16.7" height="3.6" fill="#333333"/>
<rect x="598.1" y="1423.2" width="2.8" height="6.8" fill="#333333"/>
<rect x="603.0" y="1423.2" width="2.2" height="6.8" fill="#333333"/>
<rect x="610.1" y="1423.2" width="4.7" height="6.8" fill="#333333"/>
<rect x="617.4" y="1426.4" width="1.7" height="3.6" fill="#333333"/>
<rect x="622.2" y="1426.4" width="1.8" height="3.6" fill="#333333"/>
<rect x="626.0" y="1426.4" width="4.7" height="3.6" fill="#333333"/>
<rect x="626.5" y="1423.2" width="2.7" height="6.8" fill="#333333"/>
<rect x="636.1" y="1426.4" width="1.7" height="3.6" fill="#333333"/>
<rect x="645.3" y="1426.4" width="11.3" height="3.6" fill="#333333"/>
<rect x="645.3" y="1423.2" width="2.5" height="6.8" fill="#333333"/>
<rect x="651.0" y="1420.0" width="2.2" height="10.0" fill="#333333"/>
<rect x="654.2" y="1416.8" width="2.4" height="13.2" fill="#333333"/>
<rect x="659.0" y="1426.4" width="4.9" height="3.6" fill="#333333"/>
<rect x="659.0" y="1420.0" width="2.7" height="10.0" fill="#333333"/>
<rect x="668.8" y="1426.4" width="1.9" height="3.6" fill="#333333"/>
<rect x="683.1" y="1426.4" width="3.7" height="3.6" fill="#333333"/>
<rect x="711.0" y="1426.4" width="1.7" height="3.6" fill="#333333"/>
<rect x="732.4" y="1423.2" width="4.3" height="6.8" fill="#333333"/>
<rect x="741.4" y="1426.4" width="2.1" height="3.6" fill="#333333"/>
<rect x="751.0" y="1426.4" width="1.7" height="3.6" fill="#333333"/>
<rect x="756.3" y="1426.4" width="10.3" height="3.6" fill="#333333"/>
<rect x="756.3" y="1420.0" width="3.9" height="10.0" fill="#333333"/>
<rect x="758.1" y="1416.8" width="2.1" height="13.2" fill="#333333"/>
<rect x="772.0" y="1426.4" width="1.7" height="3.6" fill="#333333"/>
<rect x="777.3" y="1426.4" width="1.7" height="3.6" fill="#333333"/>
<rect x="781.0" y="1423.2" width="2.7" height="6.8" fill="#333333"/>
<rect x="436" y="1002" width="2" height="428" fill="#333333"/>
<clipPath id="cb"><rect x="430" y="1003" width="12" height="427"/></clipPath>
<line x1="437.5" y1="1451" x2="437.5" y2="969" stroke="#9A9A9A" stroke-width="1" stroke-dasharray="4 4" clip-path="url(#cb)"/>
<path d="M93.0,1423.5H93.0V1426.3H95.4V1423.5H100.1V1421.3H101.1V1423.5H107.3V1420.6H110.1V1418.5H112.5V1410.2H114.8V1417.5H117.3V1416.3H119.4V1413.5H121.8V1410.2H124.4V1401.6H126.5V1404.5H129.0V1397.8H133.7V1400.3H135.8V1394.5H140.8V1388.5H142.9V1394.5H145.4V1388.5H149.6V1391.3H152.2V1384.5H154.6V1388.5H157.5V1378.5H159.6V1381.4H161.8V1378.5H164.3V1375.7H166.5V1377.5H168.9V1374.2H171.5V1381.4H175.8V1372.5H180.8V1384.5H182.9V1365.7H185.3V1374.2H187.5V1368.5H192.9V1374.2H195.0V1368.5H196.7V1365.7H199.3V1362.4H201.4V1361.4H206.3V1355.4H211.3V1349.4H213.3V1371.1H215.5V1364.9H218.0V1374.6H220.3V1358.3H222.6V1359.1H225.0V1372.4H227.5V1365.2H232.5V1372.4H234.6V1365.2H237.0V1368.2H239.5V1365.2H243.6V1374.6H246.6V1375.4H248.6V1374.1H250.8V1371.6H253.3V1372.4H255.3V1377.4H258.3V1378.6H260.4V1371.6H262.4V1365.2H265.4V1362.4H267.4V1368.2H269.6V1358.3H271.9V1362.4H274.4V1361.3H276.6V1355.4H281.6V1348.3H283.7V1349.4H286.2V1351.9H288.6V1348.3H293.2V1362.4H295.6V1351.9H297.9V1345.4H300.4V1359.1H302.9V1358.3H305.2V1355.4H307.4V1365.2H313.2V1361.6H314.5V1352.4H319.2V1358.3H323.2V1364.1H326.9V1359.1H328.5V1352.4H333.2V1348.3H335.7V1345.4H337.8V1348.3H340.0V1342.3H342.2V1352.3H344.7V1345.3H347.2V1338.5H349.6V1336.5H352.1V1335.3H354.5V1333.5H356.6V1339.5H359.5V1342.3H361.6V1336.5H363.8V1335.3H366.3V1329.3H368.3V1333.5H370.5V1326.5H373.3V1310.3H375.5V1304.4H377.8V1329.3H382.4V1334.5H384.6V1323.5H387.4V1319.3H389.1V1313.5H391.6V1320.7H394.4V1329.3H396.6V1323.5H399.1V1326.5H401.3V1319.3H403.6V1330.7H406.3V1333.5H408.6V1340.6H410.7V1341.5H413.2V1346.1H415.7V1344.8H417.9V1342.3H420.4V1339.5H422.7V1336.5H424.6V1303.5H427.4V1318.2H429.6V1306.5H431.6V1316.5H434.6V1300.4H436.5V1310.3H438.5V1291.5H441.5V1303.2H443.5V1310.7H445.4V1316.5H448.7V1339.5H453.5V1332.3H455.7V1343.5H457.7V1364.5H460.2V1359.5H462.5V1371.4H464.8V1358.5H467.3V1341.1H469.5V1326.5H471.5V1348.1H474.5V1326.5H476.3V1297.3H478.7V1268.5H481.3V1286.5H483.3V1315.3H485.5V1348.6H488.3V1339.4H490.5V1341.4H492.5V1322.3H495.0V1352.6H497.5V1351.8H500.3V1338.6H502.5V1349.4H504.5V1339.4H507.5V1326.5H509.5V1310.6H511.6V1333.5H514.6V1310.6H516.6V1306.5H518.6V1300.3H521.3V1313.5H525.4V1340.3H528.3V1329.5H530.3V1326.5H532.4V1336.4H535.3V1326.5H537.4V1329.5H539.4V1321.5H542.4V1313.5H544.4V1312.3H547.4V1294.3H549.6V1317.3H551.6V1342.6H554.6V1350.6H556.6V1355.6H558.6V1357.6H561.6V1348.6H563.6V1346.4H565.4V1365.6H568.2V1371.4H570.4V1368.4H572.4V1365.6H575.4V1359.8H577.7V1361.4H579.5V1360.6H582.7V1336.4H584.5V1345.3H586.5V1352.6H589.5V1345.6H593.5V1358.1H596.5V1380.6H598.7V1361.4H601.5V1358.1H603.7V1370.6H605.8V1375.6H608.3V1370.3H610.5V1374.5H612.5V1358.5H615.8V1374.5H617.5V1371.5H619.6V1387.6H622.5V1375.6H624.6V1374.5H626.6V1378.4H629.6V1368.5H631.6V1374.5H633.3V1370.3H636.3V1380.6H638.6V1371.5H640.5V1375.6H643.3V1378.4H645.4V1362.6H648.6V1377.3H650.8V1378.4H652.4V1371.5H655.4V1374.5H657.4V1381.4H659.9V1378.4H662.4V1387.6H664.4V1388.6H666.6V1384.4H669.4V1393.6H671.6V1387.6H673.7V1394.4H676.6V1381.4H678.6V1375.3H680.4V1352.6H683.2V1354.5H685.4V1361.5H687.4V1365.6H690.4V1354.5H692.4V1345.7H695.2V1343.5H697.4V1313.5H699.6V1323.5H702.4V1294.4H704.5V1330.7H706.5V1342.3H709.4V1344.5H711.5V1326.5H713.7V1307.4H716.5V1329.3H718.5V1310.4H720.7V1306.5H723.3V1338.6H725.4V1335.3H727.4V1329.6H730.3V1339.4H732.6V1350.5H734.7V1336.1H737.5V1310.4H739.6V1319.4H741.8V1331.4H744.2V1329.6H746.7V1342.3H749.5V1336.3H751.6V1349.4H753.6V1342.3H756.3V1330.4H758.5V1357.4H763.4V1365.3H765.5V1371.3H767.8V1387.4H770.4V1384.4H772.4V1401.3H774.8V1407.3H777.3V1416.5H779.4V1413.2H781.7V1417.3H784.3V1422.6H786.3V1426.3H791.5V1430.3H795.6V1430.3" fill="none" stroke="#E41A1C" stroke-width="1"/>
<path d="M93.0,1423.5H95.4V1420.6H102.6V1423.5H105.4V1417.5H110.1V1413.5H112.5V1407.3H117.3V1404.5H119.4V1397.5H124.4V1390.3H126.5V1399.6H128.7V1368.5H131.5V1388.2H133.7V1378.2H138.7V1381.4H140.8V1362.4H142.9V1368.5H145.4V1371.4H147.6V1375.2H149.6V1368.5H152.2V1359.5H154.6V1378.5H157.5V1368.5H159.6V1374.2H161.8V1368.5H166.5V1355.2H168.9V1368.5H173.6V1352.5H175.8V1345.7H178.6V1346.7H180.8V1349.3H182.9V1355.2H185.3V1346.7H187.5V1352.5H192.2V1349.7H194.3V1342.4H196.4V1349.7H199.3V1342.4H201.4V1336.4H204.3V1346.4H206.7V1333.6H208.8V1345.8H211.3V1339.4H213.7V1359.1H215.8V1349.4H218.0V1358.3H220.3V1349.4H222.6V1355.4H225.0V1358.3H227.5V1355.4H232.5V1349.4H234.6V1355.4H243.6V1364.9H248.3V1343.6H250.8V1352.4H252.9V1355.4H255.3V1349.4H257.8V1352.4H259.9V1349.4H262.4V1346.6H265.8V1355.4H267.9V1349.4H269.9V1352.4H272.4V1346.6H274.6V1345.3H276.6V1349.4H281.6V1333.6H283.7V1330.5H286.2V1339.4H288.6V1333.6H293.6V1339.4H295.6V1323.6H297.9V1329.5H300.4V1342.4H302.5V1339.4H305.2V1346.6H307.4V1355.4H309.4V1346.6H311.9V1342.4H314.2V1336.6H319.2V1345.3H321.2V1346.6H323.5V1339.4H326.0V1333.6H328.2V1330.5H330.5V1314.6H332.8V1313.6H335.3V1336.3H337.3V1316.3H340.0V1313.2H342.5V1342.3H344.7V1329.3H347.2V1310.3H349.6V1301.5H352.1V1300.2H354.5V1307.4H356.6V1303.5H359.5V1315.3H361.6V1306.5H363.8V1297.4H366.3V1301.5H368.3V1310.3H370.5V1294.5H373.3V1284.4H375.8V1287.4H377.9V1288.2H380.4V1265.4H382.9V1278.2H384.9V1271.2H387.6V1291.5H389.6V1274.4H391.6V1303.5H394.1V1294.5H396.3V1284.4H398.6V1278.2H401.6V1291.5H403.8V1284.4H406.3V1271.2H408.6V1278.2H410.7V1248.3H415.7V1201.3H417.9V1203.3H420.4V1206.3H422.7V1253.2H424.9V1275.4H427.4V1274.4H431.6V1255.2H434.6V1261.2H436.5V1242.4H438.5V1217.5H441.5V1207.5H443.5V1241.6H445.4V1200.3H448.7V1264.1H451.0V1262.9H453.5V1268.2H455.7V1316.5H457.9V1307.4H460.2V1316.5H462.5V1307.4H464.8V1306.5H467.3V1293.2H469.5V1265.4H471.5V1237.4H474.5V1248.2H476.7V1155.5H478.7V1190.3H481.3V1194.1H483.3V1193.3H485.8V1258.5H488.3V1294.3H492.5V1297.3H495.5V1333.5H497.5V1310.6H500.3V1317.3H502.5V1312.3H504.5V1303.2H507.1V1255.2H509.5V1245.4H511.6V1226.6H514.3V1198.3H516.6V1210.8H518.6V1244.6H521.3V1271.5H523.3V1284.5H525.4V1294.3H528.3V1300.7H530.3V1306.5H532.4V1297.3H535.3V1303.2H537.4V1287.3H539.4V1255.2H542.4V1280.3H544.4V1239.6H547.4V1264.5H549.9V1262.4H551.6V1267.4H554.6V1258.5H556.6V1279.0H558.6V1315.3H561.2V1320.6H563.2V1328.5H565.2V1322.3H568.2V1319.5H570.4V1345.3H572.4V1313.5H575.4V1294.3H577.7V1306.5H579.5V1276.5H582.7V1304.5H584.5V1310.6H586.5V1329.5H589.5V1307.3H591.5V1313.5H593.5V1326.5H596.0V1331.5H598.2V1339.4H601.5V1300.3H603.7V1316.5H605.8V1312.7H608.3V1335.3H610.5V1325.7H612.5V1310.4H615.3V1319.5H617.5V1316.5H619.6V1339.3H622.5V1357.3H624.6V1343.5H626.6V1342.3H631.3V1336.5H633.3V1339.3H636.3V1332.3H638.6V1320.3H640.5V1297.4H643.3V1298.5H645.4V1278.2H648.3V1284.4H652.4V1290.4H655.3V1310.4H657.4V1320.3H659.4V1359.5H661.9V1362.3H664.4V1365.3H666.6V1355.3H669.4V1360.3H671.6V1355.3H673.7V1358.5H676.2V1354.5H678.2V1349.5H680.4V1333.2H683.2V1291.2H685.4V1301.2H687.4V1277.4H690.4V1261.3H692.4V1268.2H695.2V1262.4H697.4V1279.4H699.6V1264.4H702.0V1220.3H704.4V1213.6H706.5V1203.3H709.4V1237.4H711.5V1265.4H713.7V1239.4H716.5V1300.4H718.5V1268.2H720.7V1276.6H723.3V1285.4H725.4V1276.4H727.4V1216.3H732.6V1233.5H734.7V1261.3H737.5V1271.1H739.6V1293.6H741.8V1281.3H744.2V1284.2H746.7V1303.1H751.6V1310.4H753.6V1285.4H756.3V1310.4H758.5V1307.5H760.6V1320.2H763.4V1326.3H765.5V1348.4H767.8V1368.2H770.4V1378.4H772.4V1384.1H774.8V1390.2H777.3V1400.1H779.4V1404.2H781.7V1413.2H784.3V1420.6H788.4V1426.3H796.5V1430.3" fill="none" stroke="#377EB8" stroke-width="1"/>
<rect x="726" y="1054" width="19" height="1" fill="#E41A1C"/>
<rect x="726" y="1077" width="19" height="1" fill="#377EB8"/>
<rect x="56" y="969" width="777" height="1" fill="#333333"/>
<rect x="56" y="1451" width="777" height="1" fill="#333333"/>
<rect x="56" y="969" width="1" height="483" fill="#333333"/>
<rect x="832" y="969" width="1" height="483" fill="#333333"/>
<rect x="53" y="1107" width="3" height="1" fill="#333333"/>
<rect x="53" y="1268" width="3" height="1" fill="#333333"/>
<rect x="53" y="1430" width="3" height="1" fill="#333333"/>
<rect x="92" y="1452" width="1" height="3" fill="#333333"/>
<rect x="327" y="1452" width="1" height="3" fill="#333333"/>
<rect x="562" y="1452" width="1" height="3" fill="#333333"/>
<rect x="796" y="1452" width="1" height="3" fill="#333333"/>
</g>
<rect x="406.5" y="981.5" width="62" height="21" rx="2.5" ry="2.5" fill="#fff" stroke="#000" stroke-width="1"/>
<text transform="translate(435.8,997.7) scale(0.915,1)" text-anchor="middle" font-size="15.2" fill="#000">p &lt; 0.01</text>
<text x="754.2" y="1059.7" font-size="12" letter-spacing="0.1" fill="#000">q0.9</text>
<text x="754.2" y="1082.6" font-size="12" letter-spacing="0.1" fill="#000">q0.95</text>
<text x="50.4" y="1112.9" text-anchor="end" font-size="12" letter-spacing="0.2" fill="#454545">0.10</text>
<text x="50.4" y="1273.9" text-anchor="end" font-size="12" letter-spacing="0.2" fill="#454545">0.05</text>
<text x="50.4" y="1435.9" text-anchor="end" font-size="12" letter-spacing="0.2" fill="#454545">0.00</text>
<text x="92.0" y="1468.8" text-anchor="middle" font-size="12" letter-spacing="0.2" fill="#454545">10000</text>
<text x="327.0" y="1468.8" text-anchor="middle" font-size="12" letter-spacing="0.2" fill="#454545">9000</text>
<text x="562.0" y="1468.8" text-anchor="middle" font-size="12" letter-spacing="0.2" fill="#454545">8000</text>
<text x="796.0" y="1468.8" text-anchor="middle" font-size="12" letter-spacing="0.2" fill="#454545">7000</text>
<text transform="translate(20.4,1210.6) rotate(-90)" text-anchor="middle" font-size="14.67" fill="#000">Shift Frequency</text>
<text x="444.3" y="1485.6" text-anchor="middle" font-size="14.67" fill="#000">age (yr BP)</text>
</svg></body></html>
